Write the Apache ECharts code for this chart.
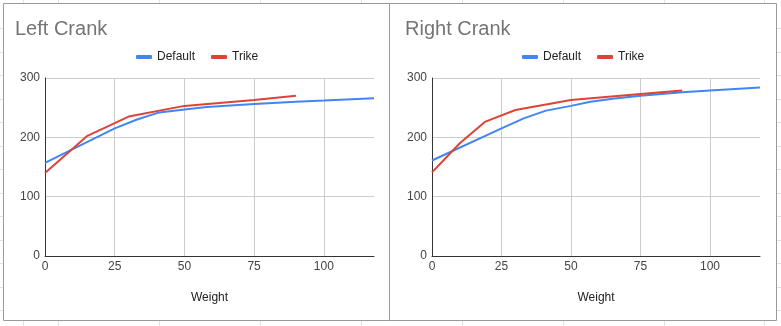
<!DOCTYPE html>
<html><head><meta charset="utf-8">
<script src="https://cdn.jsdelivr.net/npm/echarts@6/dist/echarts.min.js"></script>
<style>html,body{margin:0;padding:0;background:#fff}#c{width:781px;height:326px}</style>
</head><body><div id="c"></div>
<script>
// ---- data ----
const titles = ['Left Crank', 'Right Crank'];
const seriesNames = ['Default', 'Trike'];
const xTickValues = [0, 25, 50, 75, 100];
const yTickValues = [0, 100, 200, 300];

const leftDefaultX = [0, 25, 33, 41, 50, 58, 75, 90, 100, 118];
const leftDefaultY = [157, 215, 230, 242, 247, 251, 256, 260, 262, 266];
const leftTrikeX = [0, 15, 30, 50, 75, 90];
const leftTrikeY = [140, 202, 235, 253, 263, 270];

const rightDefaultX = [0, 25, 33, 41, 50, 57, 65, 75, 90, 100, 118];
const rightDefaultY = [161, 215, 232, 245, 253, 260, 265, 270, 276, 279, 284];
const rightTrikeX = [0, 10, 19, 30, 50, 75, 90];
const rightTrikeY = [141, 190, 226, 246, 263, 273, 279];

// ---- chart ----
const zip = (xs, ys) => xs.map((x, i) => [x, ys[i]]);
const FONT = "'Liberation Sans', Arial, sans-serif";
const BLUE = '#4285F4', RED = '#DB4437';
const xMax = 118;

function xAxisCfg(gi) {
  return {
    type: 'value', gridIndex: gi, min: 0, max: xMax, interval: 25,
    name: 'Weight', nameLocation: 'middle', nameGap: 36,
    nameTextStyle: { fontFamily: FONT, fontSize: 12, color: '#222' },
    axisLine: { show: true, onZero: false, lineStyle: { color: '#333', width: 1 } },
    axisTick: { show: false },
    axisLabel: {
      margin: 5, fontFamily: FONT, fontSize: 12, color: '#444',
      showMaxLabel: false,
      formatter: v => (xTickValues.indexOf(v) >= 0 ? String(v) : '')
    },
    splitLine: { show: true, showMinLine: false, showMaxLine: false, lineStyle: { color: '#ccc', width: 1 } }
  };
}
function yAxisCfg(gi) {
  return {
    type: 'value', gridIndex: gi, min: 0, max: 300, interval: 100,
    axisLine: { show: true, onZero: false, lineStyle: { color: '#333', width: 1 } },
    axisTick: { show: false },
    axisLabel: {
      margin: 5, fontFamily: FONT, fontSize: 12, color: '#444',
      formatter: v => (yTickValues.indexOf(v) >= 0 ? String(v) : '')
    },
    splitLine: { show: true, showMinLine: false, lineStyle: { color: '#ccc', width: 1 } }
  };
}
function lineSeries(name, color, gi, data) {
  return {
    type: 'line', name, xAxisIndex: gi, yAxisIndex: gi, data,
    showSymbol: false, symbol: 'none', smooth: false,
    lineStyle: { color, width: 2 }, itemStyle: { color }, z: 3
  };
}

// background spreadsheet grid lines (decoration only)
const bg = [];
[23, 58, 159, 260, 361, 462, 563, 664, 764].forEach(x => bg.push({
  type: 'line', z: -10, shape: { x1: x + 0.5, y1: 0, x2: x + 0.5, y2: 326 },
  style: { stroke: '#e2e2e2', lineWidth: 1 }
}));
for (let k = 0; k < 13; k++) {
  const y = Math.round(28 + 23.5 * k) + 0.5;
  bg.push({ type: 'line', z: -10, shape: { x1: 0, y1: y, x2: 781, y2: y }, style: { stroke: '#e2e2e2', lineWidth: 1 } });
}
bg.push({ type: 'rect', z: -5, shape: { x: 3.5, y: 3.5, width: 386, height: 317 }, style: { fill: '#fff', stroke: '#9a9a9a', lineWidth: 1 } });
bg.push({ type: 'rect', z: -5, shape: { x: 389.5, y: 3.5, width: 387, height: 317 }, style: { fill: '#fff', stroke: '#9a9a9a', lineWidth: 1 } });

const legendCfg = left => ({
  left, top: 51, padding: 0, data: seriesNames, icon: 'roundRect', itemWidth: 16, itemHeight: 4,
  itemGap: 16, textStyle: { fontFamily: FONT, fontSize: 12, color: '#222' }
});
const titleStyle = { fontFamily: FONT, fontSize: 20, fontWeight: 'normal', color: '#757575' };

const chart = echarts.init(document.getElementById('c'), null, { renderer: 'canvas' });
chart.setOption({
  backgroundColor: '#fff',
  animation: false,
  graphic: { elements: bg },
  title: [
    { text: titles[0], left: 15, top: 19, padding: 0, textStyle: titleStyle },
    { text: titles[1], left: 405, top: 19, padding: 0, textStyle: titleStyle }
  ],
  legend: [legendCfg(136), legendCfg(522)],
  grid: [
    { left: 45, top: 78, width: 329, height: 178 },
    { left: 432, top: 78, width: 328, height: 178 }
  ],
  xAxis: [xAxisCfg(0), xAxisCfg(1)],
  yAxis: [yAxisCfg(0), yAxisCfg(1)],
  series: [
    lineSeries(seriesNames[0], BLUE, 0, zip(leftDefaultX, leftDefaultY)),
    lineSeries(seriesNames[1], RED, 0, zip(leftTrikeX, leftTrikeY)),
    lineSeries(seriesNames[0], BLUE, 1, zip(rightDefaultX, rightDefaultY)),
    lineSeries(seriesNames[1], RED, 1, zip(rightTrikeX, rightTrikeY))
  ]
});
</script></body></html>
